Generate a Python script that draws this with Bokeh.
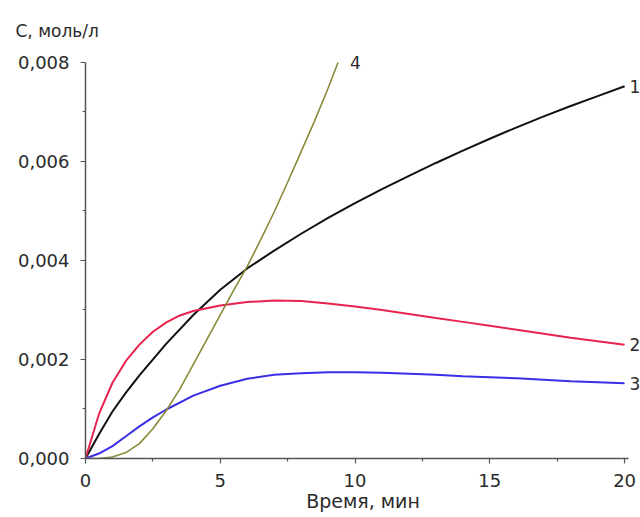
from bokeh.plotting import figure
from bokeh.embed import file_html
from bokeh.resources import INLINE
from bokeh.models import Label, CustomJSTickFormatter, FixedTicker, Range1d

# Time, min
t1 = [0, 0.5, 1, 1.5, 2, 3, 4, 5, 6, 7, 8, 9, 10, 11, 12, 13, 14, 15, 16, 17, 18, 19, 20]
c1 = [0, 0.00049, 0.00095, 0.00133, 0.00168, 0.00232, 0.0029, 0.00341, 0.00384, 0.0042, 0.00454,
      0.00486, 0.00516, 0.00544, 0.00571, 0.00597, 0.00622, 0.00646, 0.00669, 0.00691, 0.00712,
      0.00732, 0.00752]

t2 = [0, 0.5, 1, 1.5, 2, 2.5, 3, 3.5, 4, 5, 6, 7, 8, 9, 10, 11, 12, 13, 14, 15, 16, 17, 18, 19, 20]
c2 = [0, 0.0009, 0.00153, 0.00197, 0.0023, 0.00256, 0.00275, 0.00289, 0.00298, 0.00309, 0.00316,
      0.00319, 0.00318, 0.00313, 0.00307, 0.003, 0.00292, 0.00284, 0.00276, 0.00268, 0.0026,
      0.00252, 0.00244, 0.00237, 0.0023]

t3 = [0, 0.5, 1, 1.5, 2, 2.5, 3, 4, 5, 6, 7, 8, 9, 10, 11, 12, 13, 14, 15, 16, 17, 18, 19, 20]
c3 = [0, 0.0001, 0.00025, 0.00045, 0.00065, 0.00083, 0.00099, 0.00127, 0.00147, 0.00161, 0.00169,
      0.00172, 0.00174, 0.00174, 0.00173, 0.00171, 0.00169, 0.00166, 0.00164, 0.00162, 0.00159,
      0.00156, 0.00154, 0.00152]

t4 = [0, 0.5, 1, 1.5, 2, 2.5, 3, 3.5, 4, 4.5, 5, 5.5, 6, 6.5, 7, 7.5, 8, 8.5, 9, 9.37]
c4 = [0, 0.0, 0.00003, 0.00012, 0.0003, 0.0006, 0.00097, 0.0014, 0.0019, 0.0024, 0.0029, 0.0034,
      0.00388, 0.00442, 0.00498, 0.00558, 0.0062, 0.00682, 0.00748, 0.008]

x_ticks = [0, 5, 10, 15, 20]
x_minor = [2.5, 7.5, 12.5, 17.5]
y_ticks = [0, 0.002, 0.004, 0.006, 0.008]
y_minor = [0.001, 0.003, 0.005, 0.007]
curve_labels = ["1", "2", "3", "4"]

FONT = "DejaVu Sans"
TXT = "#2a2a2a"

p = figure(width=640, height=517, output_backend="svg", toolbar_location=None,
           x_range=Range1d(0, 20.59), y_range=Range1d(0, 0.008343),
           min_border_left=85, min_border_right=0, min_border_top=45, min_border_bottom=59)
p.outline_line_color = None
p.grid.visible = False
p.background_fill_color = "white"

p.title.text = "С, моль/л"
p.title.align = "left"
p.title.offset = -70
p.title.text_font = FONT
p.title.text_font_size = "17px"
p.title.text_font_style = "normal"
p.title.text_color = TXT
p.title.standoff = 9

p.line(t1, c1, line_color="#111111", line_width=2)
p.line(t2, c2, line_color="#e8244e", line_width=2)
p.line(t3, c3, line_color="#3a2ee6", line_width=2)
p.line(t4, c4, line_color="#8a8a3a", line_width=1.6)

for ax in (p.xaxis[0], p.yaxis[0]):
    ax.axis_line_color = "#555555"
    ax.axis_line_width = 1.5
    ax.major_tick_line_color = "#555555"
    ax.minor_tick_line_color = "#555555"
    ax.major_tick_line_width = 1.2
    ax.minor_tick_line_width = 1.2
    ax.major_tick_out = 5
    ax.major_tick_in = 0
    ax.minor_tick_out = 3
    ax.minor_tick_in = 0
    ax.major_label_text_font = FONT
    ax.major_label_text_font_size = "18px"
    ax.major_label_text_color = TXT

p.xaxis.bounds = (0, 20.15)
p.yaxis.bounds = (0, 0.008)
p.xaxis.ticker = FixedTicker(ticks=x_ticks, minor_ticks=x_minor)
p.yaxis.ticker = FixedTicker(ticks=y_ticks, minor_ticks=y_minor)
p.yaxis.formatter = CustomJSTickFormatter(code="return tick.toFixed(3).replace('.', ',');")
p.xaxis.formatter = CustomJSTickFormatter(code="return tick.toFixed(0);")
p.xaxis.major_label_standoff = 10
p.yaxis.major_label_standoff = 11

p.xaxis.axis_label = "Время, мин"
p.xaxis.axis_label_text_font = FONT
p.xaxis.axis_label_text_font_size = "19px"
p.xaxis.axis_label_text_font_style = "normal"
p.xaxis.axis_label_text_color = TXT
p.xaxis.axis_label_standoff = 0

end_pts = [(t1[-1], c1[-1]), (t2[-1], c2[-1]), (t3[-1], c3[-1])]
for lab, (xx, yy) in zip(curve_labels[:3], end_pts):
    p.add_layout(Label(x=xx, y=yy, x_offset=5, text=lab, text_font=FONT,
                       text_font_size="17px", text_color=TXT, text_baseline="middle"))
p.add_layout(Label(x=t4[-1], y=c4[-1], x_offset=12, text=curve_labels[3], text_font=FONT,
                   text_font_size="17px", text_color=TXT, text_baseline="middle"))

open("out.html", "w").write(file_html(p, INLINE))
